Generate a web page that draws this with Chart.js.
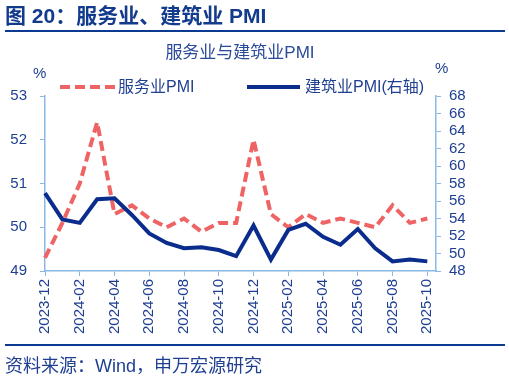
<!DOCTYPE html>
<html><head><meta charset="utf-8">
<script src="https://cdn.jsdelivr.net/npm/chart.js@4.4.1/dist/chart.umd.min.js"></script>
<style>
html,body{margin:0;padding:0;background:#fff;}
#wrap{position:relative;width:509px;height:380px;overflow:hidden;font-family:"Liberation Sans","Noto Sans CJK SC",sans-serif;color:#1F3F91;}
#cv{position:absolute;left:0;top:0;}
.t{position:absolute;white-space:nowrap;}
</style></head><body>
<div id="wrap">
<canvas id="cv" width="509" height="380"></canvas>
<div class="t" style="left:5px;top:4px;font-size:21px;line-height:24px;font-weight:bold;color:#123B8E;">图 20：服务业、建筑业 PMI</div>
<div style="position:absolute;left:5px;top:30px;width:500px;height:2px;background:#0B3A90;"></div>
<div class="t" style="left:140px;width:200px;text-align:center;top:42px;font-size:17px;line-height:22px;color:#2A4A9A;">服务业与建筑业PMI</div>
<div class="t" style="left:33px;top:63px;font-size:15px;line-height:20px;">%</div>
<div class="t" style="left:435px;top:58px;font-size:15px;line-height:20px;">%</div>
<svg style="position:absolute;left:60px;top:84px;" width="56" height="6"><line x1="0" y1="3" x2="56" y2="3" stroke="#EE6464" stroke-width="4" stroke-dasharray="10 5"/></svg>
<div class="t" style="left:118px;top:77px;font-size:16px;line-height:20px;">服务业PMI</div>
<svg style="position:absolute;left:247px;top:84px;" width="53" height="6"><line x1="0" y1="3" x2="53" y2="3" stroke="#0A2C8C" stroke-width="4"/></svg>
<div class="t" style="left:305px;top:77px;font-size:16px;line-height:20px;">建筑业PMI(右轴)</div>
<div style="position:absolute;left:5px;top:344px;width:500px;height:2px;background:#0B3A90;"></div>
<div class="t" style="left:5px;top:354px;font-size:18px;line-height:24px;color:#1F3F91;">资料来源：Wind，申万宏源研究</div>
</div>
<script>
const months = ['2023-12','2024-01','2024-02','2024-03','2024-04','2024-05','2024-06','2024-07','2024-08','2024-09','2024-10','2024-11','2024-12','2025-01','2025-02','2025-03','2025-04','2025-05','2025-06','2025-07','2025-08','2025-09','2025-10'];
const servicesPMI = [49.3,50.1,51.0,52.4,50.3,50.5,50.2,50.0,50.2,49.9,50.1,50.1,52.0,50.3,50.0,50.3,50.1,50.2,50.1,50.0,50.5,50.1,50.2];
const constructionPMI = [56.9,53.9,53.5,56.2,56.3,54.4,52.3,51.2,50.6,50.7,50.4,49.7,53.2,49.3,52.7,53.4,51.9,51.0,52.8,50.6,49.1,49.3,49.1];
const leftTicks = {min:49, max:53, step:1};
const rightTicks = {min:48, max:68, step:2};

const FONT = '"Liberation Sans","Noto Sans CJK SC",sans-serif';
const TXT = '#1F3F91';
const AX = '#8AB8E6';

new Chart(document.getElementById('cv'), {
  type: 'line',
  data: {
    datasets: [
      {label:'服务业PMI', data: servicesPMI.map((v,i)=>({x:i,y:v})), yAxisID:'y', borderColor:'#EE6464', borderWidth:4, borderDash:[10,5], pointRadius:0, tension:0, order:1, clip:false},
      {label:'建筑业PMI(右轴)', data: constructionPMI.map((v,i)=>({x:i,y:v})), yAxisID:'y1', borderColor:'#0A2C8C', borderWidth:4, pointRadius:0, tension:0, order:0, clip:false}
    ]
  },
  options: {
    responsive:false, animation:false,
    layout:{padding:{top:96,left:0,right:0,bottom:0}},
    plugins:{legend:{display:false}, title:{display:false}, tooltip:{enabled:false}},
    scales:{
      x:{type:'linear', position:'bottom', min:0, max:months.length-0.5,
        afterBuildTicks:s=>{ s.ticks = months.map((m,i)=>({value:i})).filter(t=>t.value%2===0); },
        afterFit:s=>{ s.height = 109; },
        ticks:{autoSkip:false, maxRotation:90, minRotation:90, padding:3, color:TXT, font:{family:FONT,size:15}, callback:v=>months[v] ?? ''},
        grid:{drawOnChartArea:false, drawTicks:true, tickLength:5, color:AX},
        border:{color:AX, width:1.5}
      },
      y:{position:'left', min:leftTicks.min, max:leftTicks.max,
        afterFit:s=>{ s.width = 45; },
        ticks:{autoSkip:false, stepSize:leftTicks.step, padding:13, color:TXT, font:{family:FONT,size:15}},
        grid:{drawOnChartArea:false, drawTicks:true, tickLength:5, color:AX},
        border:{color:AX, width:1.5}
      },
      y1:{position:'right', min:rightTicks.min, max:rightTicks.max,
        afterFit:s=>{ s.width = 73; },
        ticks:{autoSkip:false, stepSize:rightTicks.step, padding:8, color:TXT, font:{family:FONT,size:15}},
        grid:{drawOnChartArea:false, drawTicks:true, tickLength:5, color:AX},
        border:{color:AX, width:1.5}
      }
    }
  }
});
</script>
</body></html>
